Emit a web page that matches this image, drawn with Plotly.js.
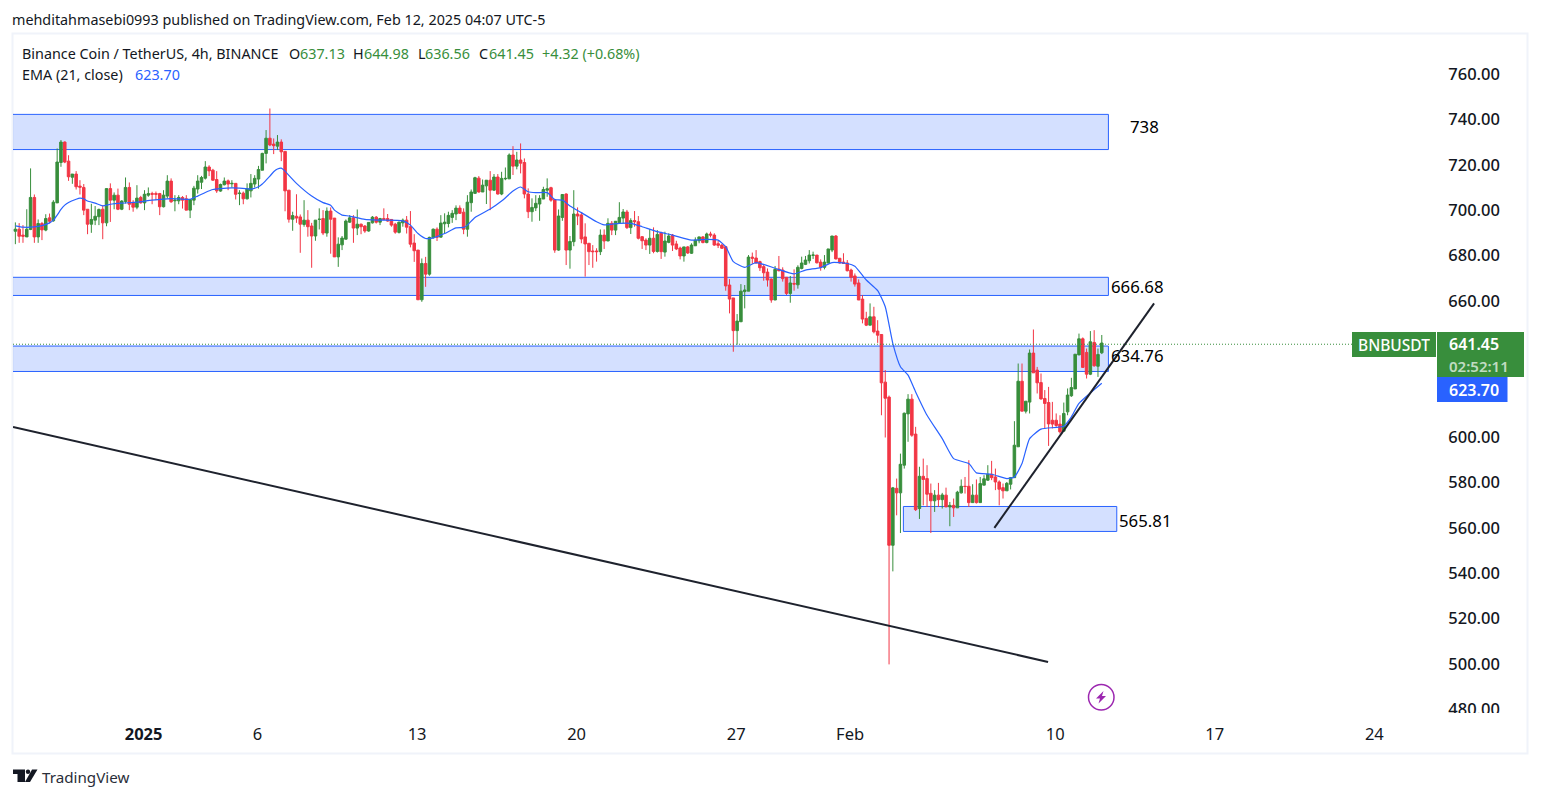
<!DOCTYPE html>
<html><head><meta charset="utf-8">
<script src="https://cdn.plot.ly/plotly-3.0.1.min.js"></script>
<style>html,body{margin:0;padding:0;background:#fff;overflow:hidden}#c{width:1541px;height:798px}</style>
</head><body><div id="c"></div>
<script>
const opens=[690.7,691.6,689.0,688.2,691.5,705.6,688.2,694.1,691.2,696.6,695.3,703.2,721.0,730.0,721.6,714.5,715.9,710.6,710.0,700.4,693.8,695.6,697.1,700.4,694.4,709.5,704.4,706.6,700.4,703.8,710.0,703.4,701.3,705.6,703.2,706.6,707.3,707.3,707.3,701.5,706.2,712.8,704.1,704.1,705.6,705.0,700.0,704.4,709.3,712.3,714.1,719.0,717.6,713.5,708.4,711.2,712.9,711.6,711.8,707.3,707.5,705.0,708.5,711.5,713.7,717.6,725.0,731.7,729.1,728.2,730.0,725.9,708.8,696.0,697.3,
697.0,693.7,695.6,693.0,688.6,695.9,696.3,689.9,699.6,696.5,679.4,684.7,687.2,694.7,696.6,692.1,693.8,693.0,690.8,694.4,696.9,694.7,696.3,696.3,695.9,693.8,690.2,694.4,695.6,692.7,685.5,682.4,660.5,676.5,671.8,687.8,691.6,688.1,694.0,694.1,696.8,698.3,700.9,699.1,691.6,703.3,707.4,714.1,708.0,710.7,713.2,708.8,714.6,707.1,713.8,713.8,724.3,719.4,722.1,721.0,707.1,699.3,701.0,702.7,704.9,708.8,709.9,704.7,682.4,696.8,707.1,682.4,686.1,698.3,
697.9,688.2,685.4,682.0,682.0,681.7,689.0,686.4,694.2,691.2,694.5,696.5,699.2,692.3,695.4,694.9,688.3,686.8,684.6,687.6,681.8,689.8,681.5,685.8,689.0,685.1,683.3,679.8,683.8,681.0,684.3,686.5,688.2,685.7,689.5,689.0,685.2,684.6,683.9,667.0,661.3,646.9,650.8,664.1,664.3,679.3,678.9,677.3,675.1,672.7,669.6,660.4,674.0,673.6,670.4,663.3,667.7,667.1,674.3,676.1,677.7,680.1,680.2,677.1,674.8,676.7,682.4,688.6,678.8,677.1,676.7,673.6,671.0,667.9,
660.8,652.3,649.3,653.0,646.7,645.2,624.2,617.6,552.3,577.4,575.4,587.6,610.2,616.7,601.3,568.5,582.7,581.7,575.2,571.9,574.4,572.4,574.4,569.2,569.9,568.8,575.4,578.3,578.3,571.1,574.4,571.1,578.8,581.0,583.6,582.4,580.2,577.7,576.3,579.2,582.1,595.7,624.6,611.4,615.4,637.0,629.5,624.0,617.0,615.2,607.4,607.4,605.7,602.6,611.1,618.2,621.2,636.2,643.3,637.3,627.7,641.7,631.2,637.13];
const highs=[694.6,694.3,693.4,700.4,718.4,706.9,695.9,694.8,698.2,698.5,704.4,727.2,730.9,730.3,724.2,715.9,717.2,713.2,711.5,700.4,702.8,701.8,700.7,702.2,709.5,711.8,707.8,709.5,704.4,714.4,712.2,704.4,711.0,706.3,708.8,710.0,708.1,708.2,707.6,708.8,715.4,714.0,706.6,706.6,706.2,706.6,704.7,710.7,715.4,715.1,721.6,719.8,718.2,717.2,711.7,714.4,713.5,713.2,711.8,708.8,708.2,711.8,715.9,715.4,719.5,725.3,735.3,744.8,731.6,733.1,731.2,725.9,708.8,699.3,707.0,
698.1,704.4,700.0,694.4,695.6,700.8,700.0,701.2,701.2,696.5,688.0,688.6,695.9,697.8,697.8,700.3,694.1,693.4,694.6,697.4,697.4,696.6,700.8,698.3,695.9,694.4,694.9,696.3,697.4,699.6,689.4,682.4,678.7,679.4,688.3,691.9,692.4,697.8,698.6,699.3,700.0,702.1,702.1,700.8,706.6,709.1,714.7,715.0,713.5,713.2,717.2,715.9,715.9,716.9,718.8,725.0,728.2,725.7,729.4,722.8,709.6,705.2,706.6,706.6,710.3,714.0,710.3,704.7,700.3,706.9,707.4,688.6,708.8,701.2,
699.0,694.2,685.4,684.6,683.2,691.5,691.5,696.4,695.2,695.2,703.5,700.5,700.1,696.4,699.6,697.4,688.6,687.6,691.7,692.4,691.2,690.5,690.5,689.8,689.5,686.5,683.9,683.8,684.2,685.4,688.0,688.3,688.6,690.1,690.5,689.8,686.4,685.2,683.9,669.6,661.3,654.2,667.4,667.0,680.2,681.3,682.4,677.7,676.1,674.3,669.9,675.4,679.8,674.8,670.4,671.0,673.9,675.7,679.5,679.8,682.4,681.7,680.2,678.3,680.2,682.9,688.6,689.0,678.8,681.0,678.0,674.2,672.1,669.5,
662.6,655.2,658.9,657.4,651.5,645.2,629.5,618.3,578.0,581.7,592.7,610.8,618.9,618.9,604.5,586.9,590.5,587.6,579.5,576.6,579.8,575.4,577.7,571.4,572.9,576.3,581.3,582.4,589.8,579.2,581.3,582.4,583.2,587.6,589.5,586.1,580.9,579.5,580.2,582.4,607.0,632.4,632.4,615.8,638.6,647.4,630.9,628.0,620.7,622.1,615.5,610.4,609.6,615.2,621.4,626.1,636.5,645.6,643.9,639.0,646.7,647.1,639.0,644.98];
const lows=[685.0,685.6,685.6,688.2,691.2,685.6,685.6,686.8,690.7,694.1,694.9,703.2,719.1,720.7,712.9,711.6,709.1,706.9,697.8,689.4,690.0,693.4,693.4,687.2,692.9,694.8,700.4,700.0,700.0,702.9,700.0,699.3,700.4,702.9,700.0,705.9,702.6,704.4,697.8,701.2,705.1,703.2,699.5,702.6,700.7,700.0,696.5,702.2,707.3,709.3,713.5,715.0,712.9,707.6,708.1,710.9,708.8,710.0,704.7,702.2,702.6,704.7,705.6,710.0,709.5,717.6,720.6,728.2,724.7,726.5,721.6,699.5,694.5,690.9,694.4,
681.2,692.7,688.3,674.6,686.5,691.5,689.0,688.3,680.8,679.4,675.0,682.4,687.1,694.4,685.6,689.0,689.4,690.0,690.5,694.1,694.1,693.4,695.6,694.9,692.7,689.6,689.7,692.7,689.7,683.6,677.2,660.5,659.6,666.2,671.1,687.5,686.4,688.0,689.7,692.4,694.4,695.6,698.3,689.4,688.3,699.3,707.1,707.7,708.0,702.7,700.0,708.5,706.9,706.6,713.2,713.7,715.5,718.0,716.2,705.2,696.5,694.9,699.6,695.3,704.9,705.9,703.7,681.2,682.1,695.3,675.8,674.2,684.1,693.4,
685.4,670.7,675.8,674.6,677.3,680.2,682.9,686.4,689.0,689.0,694.2,694.2,691.7,689.5,692.7,687.1,682.9,682.4,680.7,681.0,681.3,678.5,679.5,685.4,682.0,682.4,678.3,677.3,680.7,680.7,684.2,685.4,685.4,685.4,688.0,684.3,683.3,682.9,664.5,654.5,637.6,640.7,650.7,656.7,664.3,676.3,676.5,673.2,668.9,666.3,659.2,660.4,673.0,668.5,662.6,659.2,664.5,665.4,673.9,675.8,676.5,678.5,676.5,673.3,673.9,676.5,681.5,678.3,676.5,676.3,673.0,668.5,666.3,660.4,
650.1,648.9,649.3,645.7,641.5,609.6,599.8,499.8,540.8,565.5,557.7,586.1,597.9,600.1,567.4,563.9,569.9,569.2,557.7,567.0,569.2,568.5,569.2,560.7,564.8,568.8,575.1,575.1,569.2,571.1,570.7,571.1,578.8,580.7,581.0,576.6,569.9,572.9,576.3,576.9,582.1,595.7,611.4,610.4,610.4,628.3,619.2,616.5,603.8,596.1,603.8,604.5,601.5,602.6,609.6,617.7,621.2,636.1,630.7,625.8,627.3,631.0,626.5,636.56];
const closes=[691.6,688.5,688.5,691.6,705.6,688.2,694.1,691.3,696.3,695.1,703.5,721.2,730.0,721.2,714.7,715.9,710.3,710.1,700.0,693.8,695.9,697.3,700.3,694.4,709.5,704.4,706.6,700.4,704.0,710.0,702.6,701.3,705.3,703.2,707.0,707.3,707.0,707.0,701.5,706.6,712.8,703.7,704.4,705.6,704.4,700.0,704.7,709.7,712.8,714.4,719.0,717.3,713.2,708.5,711.3,712.8,711.5,711.8,707.0,707.5,705.0,709.5,711.8,714.0,717.9,725.0,731.7,728.7,728.4,730.0,725.7,708.5,696.0,697.6,696.5,
693.8,695.6,692.7,688.6,695.6,696.0,689.9,699.6,696.0,679.4,685.0,687.7,695.2,696.6,692.1,693.8,692.7,690.8,694.6,696.9,694.7,696.3,695.9,695.2,693.4,690.3,694.7,695.6,692.5,685.0,682.1,660.5,676.5,671.8,688.0,691.6,688.0,694.3,694.7,697.7,698.6,700.9,698.6,691.6,703.5,708.0,714.3,708.0,711.0,713.2,708.8,714.6,707.1,714.0,714.0,724.3,719.4,722.1,720.7,707.1,699.3,701.2,703.0,705.2,709.1,709.4,704.4,682.4,697.4,706.9,682.4,686.2,698.3,697.4,
687.3,685.1,681.7,681.7,681.7,689.0,686.4,694.2,691.2,695.1,696.8,699.2,692.3,695.4,694.9,687.6,686.5,684.6,687.6,681.8,689.3,681.7,686.4,688.6,684.6,682.9,679.8,683.8,681.1,684.6,686.8,688.2,685.7,689.5,689.0,684.6,684.5,683.2,666.6,660.8,646.9,651.1,664.3,664.8,679.3,678.8,676.7,674.6,672.4,669.2,660.4,673.9,673.3,669.8,663.3,667.9,667.4,674.8,676.7,678.0,680.2,680.2,676.8,674.8,677.1,682.9,688.6,678.5,676.7,676.5,673.3,670.4,667.4,660.4,
652.0,649.3,653.0,646.4,644.9,623.9,617.1,552.3,577.6,575.4,588.0,610.5,616.7,600.8,568.0,582.7,581.3,574.8,571.9,574.4,572.4,574.5,569.2,569.9,568.8,575.7,578.3,578.2,571.1,574.4,571.1,579.5,581.6,583.6,582.1,580.2,577.0,576.3,579.6,582.1,596.4,624.6,611.4,615.8,637.0,628.3,623.9,616.8,614.8,605.8,605.7,605.1,602.3,610.4,618.5,621.8,636.5,643.3,630.7,627.7,642.0,631.4,636.4,641.45];

const emaIdx=[1,3,6,8,10,11,12,13,14,15,17,18,19,20,22,24,26,29,33,37,42,47,49,51,53,55,58,60,63,65,66,67,68,69,70,71,72,73,75,79,82,84,85,87,89,93,97,103,105,107,109,111,114,117,119,120,122,126,129,132,134,136,138,141,143,145,147,150,154,156,160,163,166,170,174,179,183,186,188,190,193,196,201,206,209,213,216,220,222,225,228,230,232,234,236,238,241,245,248,252,254,258,262,264,266,268,271,277,279,281,287];
const emaVal=[693.1,692.5,692.6,693.2,694.4,695.6,697.8,700.3,702.2,703.4,704.8,705.3,705.0,704.0,703.1,701.9,702.6,703.1,703.5,704.4,705.1,704.8,706.2,707.8,709.1,709.5,709.8,709.7,709.3,710.3,711.5,713.2,715.0,716.9,718.1,718.5,717.2,715.3,711.8,706.2,703.3,702.2,700.0,697.8,697.4,695.9,695.6,695.3,693.4,689.7,687.5,687.8,689.7,692.2,692.4,693.4,696.8,700.5,704.0,708.4,710.2,708.1,707.7,707.7,704.7,704.4,701.8,698.9,694.9,693.5,694.2,694.2,692.7,690.5,689.0,686.8,687.1,686.8,683.9,677.3,674.8,676.9,674.4,671.9,673.6,674.7,676.9,676.5,675.3,669.2,664.5,657.4,641.2,631.0,627.3,619.9,609.6,599.3,590.5,588.3,584.2,583.6,581.7,582.4,588.3,599.3,603.5,604.8,608.9,614.8,623.7];

const priceTicks=[480,500,520,540,560,580,600,620,640,660,680,700,720,740,760];
const dateTicks=["2025-01-01 02:00","2025-01-06 02:00","2025-01-13 02:00","2025-01-20 02:00","2025-01-27 02:00","2025-02-01 02:00","2025-02-10 02:00","2025-02-17 02:00","2025-02-24 02:00"];
const dateLabels=["<b>2025</b>","6","13","20","27","Feb","10","17","24"];
const zoneTop=[742.2,670.4,640.1,569.4];
const zoneBottom=[726.7,662.4,628.9,558.4];
const zoneStart=["2024-12-20","2024-12-20","2024-12-20","2025-02-03 10:06"];
const zoneEnd=["2025-02-12 10:00","2025-02-12 10:00","2025-02-12 10:00","2025-02-12 18:48"];
const zoneNotes=["738","666.68","634.76","565.81"];
const lastPriceLine=640.9;

const W=1541,H=798,L=13,R=1437,T=34,B=716;
const px=x=>(x-L)/(R-L), py=y=>(B-y)/(B-T);
const FONT='"Noto Sans", sans-serif';
const lastT=Date.UTC(2025,1,12,3,0,0), n=closes.length;
const times=closes.map((_,i)=>new Date(lastT-(n-1-i)*4*3600e3).toISOString());
const up='#388e3c',dn='#f23645',blue='#2962ff',ink='#131722';

const txt=(x,y,text,size,color,extra,weight)=>Object.assign({xref:'paper',yref:'paper',x:px(x),y:py(y),text,showarrow:false,xanchor:'left',yanchor:'middle',
  font:{family:FONT,size,color,weight:weight||400},borderpad:0,borderwidth:0,align:'left'},extra||{});
const box=(x0,y0,x1,y1,fill,extra)=>Object.assign({type:'rect',xref:'paper',yref:'paper',x0:px(x0),x1:px(x1),y0:py(y0),y1:py(y1),fillcolor:fill,line:{width:0},layer:'above'},extra||{});
const pth=(pts)=>{return {type:'path',xref:'paper',yref:'paper',path:pts.map((p,i)=>(i?'L':'M')+px(p[0])+','+py(p[1])).join(' ')+' Z',fillcolor:ink,line:{width:0},layer:'above'}};

const shapes=[];
zoneTop.forEach((t,i)=>shapes.push({type:'rect',xref:'x',yref:'y',x0:zoneStart[i],x1:zoneEnd[i],y0:zoneBottom[i],y1:t,fillcolor:'rgba(41,98,255,0.2)',line:{color:blue,width:1},layer:'below'}));
shapes.push({type:'line',xref:'paper',yref:'y',x0:0,x1:1,y0:lastPriceLine,y1:lastPriceLine,line:{color:up,width:1,dash:'1px,2px'},layer:'above'});
shapes.push({type:'line',xref:'x',yref:'y',x0:'2024-12-26 08:30',y0:604.4,x1:'2025-02-09 18:27',y1:500.9,line:{color:'#1e222d',width:2},layer:'above'});
shapes.push({type:'line',xref:'x',yref:'y',x0:'2025-02-07 09:54',y0:560.0,x1:'2025-02-14 10:05',y1:658.9,line:{color:'#1e222d',width:2},layer:'above'});
shapes.push(box(1440,713,1524,720,'#ffffff'));
shapes.push({type:'rect',xref:'paper',yref:'paper',x0:px(12.5),x1:px(1527.5),y0:py(33.5),y1:py(753.5),line:{color:'#f0f3fa',width:2},layer:'below'});
shapes.push(box(1352,332,1436,357,up));
shapes.push(box(1437,332,1524,377,up));
shapes.push(box(1437,377,1507.5,402,blue));
shapes.push(pth([[13,769.5],[25,769.5],[25,782],[17.5,782],[17.5,774],[13,774]]));
shapes.push({type:'circle',xref:'paper',yref:'paper',x0:px(25.8),x1:px(30.2),y0:py(769.5),y1:py(774),fillcolor:ink,line:{width:0},layer:'above'});
shapes.push(pth([[32,769.5],[37.5,769.5],[30,782],[25,782]]));
shapes.push({type:'circle',xref:'paper',yref:'paper',x0:px(1088.5),x1:px(1114),y0:py(684.5),y1:py(710),line:{color:'#9c27b0',width:1.5},fillcolor:'#ffffff',layer:'above'});
shapes.push(Object.assign(pth([[1103.5,691],[1096,698.5],[1100,698.5],[1098.5,703.5],[1106,696],[1102,696]]),{fillcolor:'#9c27b0'}));

const S=14.35;
const ann=[
 txt(12,19.5,'mehditahmasebi0993 published on TradingView.com, Feb 12, 2025 04:07 UTC-5',S,ink),
 txt(22,54,'Binance Coin / TetherUS, 4h, BINANCE',S,ink),
 txt(289,54,'O',S,ink), txt(300,54,'637.13',S,up),
 txt(353,54,'H',S,ink), txt(364,54,'644.98',S,up),
 txt(418,54,'L',S,ink), txt(425,54,'636.56',S,up),
 txt(479,54,'C',S,ink), txt(489,54,'641.45',S,up),
 txt(542,54,'+4.32 (+0.68%)',S,up),
 txt(22,75,'EMA (21, close)',S,ink), txt(134.5,75,'623.70',S,blue),
 txt(41.5,776.5,'TradingView',15.2,'#2a2e39'),
 txt(1130,126,zoneNotes[0],16.8,'#000'),
 txt(1111,286,zoneNotes[1],16.8,'#000'),
 txt(1111,355,zoneNotes[2],16.8,'#000'),
 txt(1119,520,zoneNotes[3],16.8,'#000'),
 txt(1358,345,'BNBUSDT',15.5,'#fff',{height:18},500),
 txt(1449,344,'641.45',16,'#fff',{height:18},600),
 txt(1449,366,'02:52:11',15,'rgba(255,255,255,0.7)',{height:16},600),
 txt(1449,390,'623.70',16,'#fff',{height:18},600)
];

const data=[
 {type:'candlestick',x:times,open:opens,high:highs,low:lows,close:closes,
  increasing:{line:{color:up,width:1},fillcolor:up},decreasing:{line:{color:dn,width:1},fillcolor:dn},hoverinfo:'skip',showlegend:false},
 {type:'scatter',mode:'lines',x:emaIdx.map(k=>times[k-1]),y:emaVal,line:{color:blue,width:1.2,shape:'spline',smoothing:0.5},hoverinfo:'skip',showlegend:false}
];
const layout={width:W,height:H,margin:{l:L,r:W-R,t:T,b:H-B,pad:0},paper_bgcolor:'#fff',plot_bgcolor:'#fff',showlegend:false,boxgap:0.05,
 xaxis:{type:'date',range:['2024-12-26 08:30','2025-02-26 20:00'],rangeslider:{visible:false},showgrid:false,zeroline:false,showline:false,
  tickmode:'array',tickvals:dateTicks,ticktext:dateLabels,ticks:'outside',ticklen:3,tickcolor:'rgba(0,0,0,0)',tickangle:0,tickfont:{family:FONT,size:16.5,color:ink}},
 yaxis:{side:'right',range:[477.06,777.63],showgrid:false,zeroline:false,showline:false,tickmode:'array',tickvals:priceTicks,
  ticktext:priceTicks.map(v=>v.toFixed(2)),ticks:'outside',ticklen:7,tickcolor:'rgba(0,0,0,0)',tickfont:{family:FONT,size:16.5,color:ink,weight:500}},
 shapes,annotations:ann};
Plotly.newPlot('c',data,layout,{displayModeBar:false,staticPlot:true});
</script></body></html>
